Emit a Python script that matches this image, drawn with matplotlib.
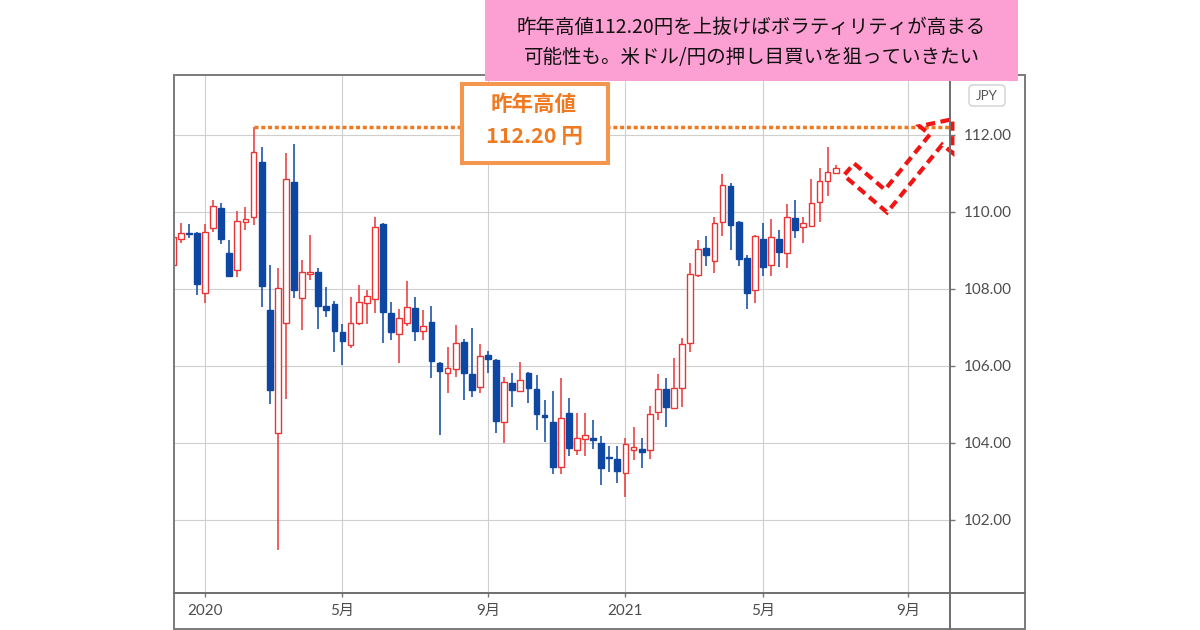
import matplotlib
matplotlib.use('Agg')
import matplotlib.pyplot as plt
import matplotlib.dates as mdates
from matplotlib.patches import Rectangle, FancyBboxPatch, Polygon
from matplotlib.lines import Line2D
import pandas as pd

# weekly USD/JPY candles, first bar = week of 2019-12-09
first_week = '2019-12-09'
opens = [108.62, 109.30, 109.46, 109.45, 107.89, 109.59, 110.10, 108.93, 108.49, 109.73,
         109.86, 111.31, 107.45, 104.25, 107.11, 110.79, 107.76, 108.40, 108.45, 107.56,
         107.61, 106.89, 106.55, 107.11, 107.63, 107.73, 109.68, 107.37, 106.82, 107.11,
         107.50, 106.92, 107.15, 106.07, 105.81, 105.91, 106.63, 105.79, 105.45, 106.29,
         106.16, 104.55, 105.55, 105.35, 105.81, 105.39, 104.72, 104.55, 103.38, 104.79,
         103.82, 104.10, 104.12, 104.01, 103.64, 103.58, 103.21, 103.82, 103.85, 103.82,
         104.81, 105.39, 104.90, 105.42, 106.59, 108.36, 109.07, 108.73, 109.73, 110.68,
         109.75, 108.81, 107.97, 109.30, 108.62, 109.30, 108.93, 109.84, 109.62, 109.64,
         110.27, 110.81, 111.01]
highs = [109.60, 109.71, 109.69, 109.48, 109.69, 110.31, 110.23, 109.27, 110.03, 110.12,
         112.22, 111.70, 108.62, 108.54, 111.52, 111.77, 108.75, 109.40, 108.54, 108.06,
         107.70, 107.09, 107.80, 108.10, 107.97, 109.88, 109.72, 107.67, 107.47, 108.21,
         107.80, 107.45, 107.56, 106.11, 106.50, 107.06, 106.69, 106.98, 106.57, 106.40,
         106.18, 105.72, 105.83, 106.11, 105.85, 105.77, 105.12, 105.36, 105.68, 105.16,
         104.79, 104.79, 104.60, 104.18, 103.92, 103.92, 104.12, 104.42, 104.12, 104.96,
         105.79, 105.68, 106.22, 106.72, 108.67, 109.27, 109.38, 109.88, 110.99, 110.76,
         109.77, 108.88, 109.40, 109.71, 109.81, 109.53, 110.21, 110.32, 109.88, 110.85,
         111.14, 111.68, 111.22]
lows = [108.40, 109.19, 109.32, 107.84, 107.64, 109.49, 109.18, 108.33, 108.32, 109.53,
        109.66, 107.54, 105.01, 101.22, 105.13, 107.76, 106.94, 108.23, 106.95, 107.28,
        106.37, 106.03, 106.46, 107.06, 107.09, 107.37, 106.59, 106.68, 106.07, 107.04,
        106.66, 106.68, 105.68, 104.21, 105.31, 105.71, 105.12, 105.20, 105.31, 105.81,
        104.27, 104.01, 104.94, 105.33, 105.03, 104.34, 104.03, 103.19, 103.19, 103.66,
        103.69, 103.66, 103.84, 102.91, 103.25, 102.97, 102.60, 103.56, 103.34, 103.58,
        104.61, 104.42, 104.88, 104.94, 106.37, 108.30, 108.60, 108.41, 109.38, 109.01,
        108.60, 107.47, 107.64, 108.34, 108.34, 108.56, 108.54, 109.32, 109.19, 109.62,
        109.73, 110.42, 110.99]
closes = [109.36, 109.46, 109.43, 108.12, 109.49, 110.16, 109.29, 108.35, 109.77, 109.81,
          111.57, 108.09, 105.38, 108.02, 110.85, 107.97, 108.43, 108.44, 107.56, 107.45,
          106.92, 106.66, 107.12, 107.67, 107.82, 109.60, 107.39, 106.89, 107.24, 107.52,
          106.92, 107.05, 106.14, 105.88, 105.96, 106.59, 105.81, 105.38, 106.26, 106.19,
          104.58, 105.59, 105.38, 105.64, 105.42, 104.75, 104.68, 103.38, 104.64, 103.88,
          104.12, 104.21, 104.08, 103.34, 103.60, 103.28, 103.97, 103.90, 103.77, 104.75,
          105.39, 104.94, 105.44, 106.56, 108.39, 109.03, 108.88, 109.71, 110.70, 109.66,
          108.78, 107.89, 109.38, 108.58, 109.36, 108.95, 109.86, 109.53, 109.71, 110.23,
          110.81, 111.05, 111.14]

price_ticks = [102, 104, 106, 108, 110, 112]
tick_dates = ['2020-01-06', '2020-05-04', '2020-09-07', '2021-01-04', '2021-05-03', '2021-09-06']
tick_labels = ['2020', '5月', '9月', '2021', '5月', '9月']

# projected zigzag (outline), in weeks after first bar and price
forecast_weeks = [84.29, 88.09, 93.64, 92.39, 96.44, 96.43, 95.18, 88.36, 83.01]
forecast_price = [111.26, 110.58, 112.01, 112.23, 112.41, 111.54, 111.75, 109.99, 110.95]

headline = ['昨年高値112.20円を上抜けばボラティリティが高まる',
            '可能性も。米ドル/円の押し目買いを狙っていきたい']

RED = '#EA3535'
BLUE = '#0D47A1'
ORANGE = '#F07A22'
CJK = ['Noto Sans CJK JP', 'DejaVu Sans']
AXFONT = ['Lato', 'Noto Sans CJK JP', 'DejaVu Sans']
H = 630


def inch(px, py):
    return px / 100, (H - py) / 100


fig = plt.figure(figsize=(12, 6.3), dpi=100)
fig.patch.set_facecolor('white')

ax = fig.add_axes([174 / 1200, (H - 593.3) / H, (950 - 174) / 1200, (593.3 - 74.7) / H])
for s in ax.spines.values():
    s.set_visible(False)

weeks = pd.date_range(first_week, periods=len(opens), freq='7D')
x = mdates.date2num(weeks)
x0 = x[0]

up = [c >= o for o, c in zip(opens, closes)]
cols = [RED if u else BLUE for u in up]
faces = ['white' if u else BLUE for u in up]
bottoms = [min(o, c) for o, c in zip(opens, closes)]
heights = [abs(c - o) for o, c in zip(opens, closes)]

ax.vlines(x, lows, highs, colors=cols, lw=1.1, zorder=2)
ax.bar(x, heights, bottom=bottoms, width=5.0, color=faces, edgecolor=cols,
       linewidth=1.0, zorder=3)

ax.set_xlim(x0 + 1.13, x0 + 672.98)
ax.set_ylim(100.096, 113.566)

# last year's high, dotted
year_high = max(highs)
hi_x = x[highs.index(year_high)]
ax.plot([hi_x, x0 + 672.98], [year_high, year_high], color=ORANGE, lw=2.5,
        linestyle=(0, (1.15, 0.8)), dash_capstyle='butt', zorder=4)

# projected path
fx = [x0 + w * 7 for w in forecast_weeks]
ax.add_patch(Polygon(list(zip(fx, forecast_price)), closed=True, fill=False,
                     edgecolor='#F01515', lw=3, linestyle=(0, (2.2, 1.3)),
                     clip_on=False, zorder=6))

# label box
ax.add_patch(Rectangle((0.3711, 0.8297), 0.1882, 0.1524, transform=ax.transAxes,
                       facecolor='white', edgecolor='#F5964F', lw=2.9, zorder=7))
ax.text(0.4639, 0.9435, '昨年高値', transform=ax.transAxes, ha='center', va='center',
        fontsize=15.5, fontweight='bold', color=ORANGE, family=CJK, zorder=8)
ax.text(0.4639, 0.8799, '112.20 円', transform=ax.transAxes, ha='center', va='center',
        fontsize=15.5, fontweight='bold', color=ORANGE, family=CJK, zorder=8)

ax.set_xticks(mdates.date2num(pd.to_datetime(tick_dates)))
ax.set_xticklabels(tick_labels, family=AXFONT)
ax.set_yticks(price_ticks)
ax.set_yticklabels(['%.2f' % p for p in price_ticks], family=AXFONT)
ax.yaxis.tick_right()
ax.grid(True, color='#cfcfcf', lw=0.8)
ax.set_axisbelow(True)
ax.tick_params(axis='y', left=False, right=True, length=3.6, width=1, color='#777777',
               pad=6, labelsize=11, labelcolor='#4d4d4d')
ax.tick_params(axis='x', length=3, width=1, color='#777777', pad=5,
               labelsize=11, labelcolor='#4d4d4d')

# frame and axis lines
T = fig.dpi_scale_trans
fig.add_artist(Rectangle(inch(174, 629), (1025 - 174) / 100, (629 - 74.7) / 100,
                         transform=T, fill=False, ec='#7a7a7a', lw=1.4, zorder=5))
fig.add_artist(Line2D([9.50, 9.50], [inch(0, 74.7)[1], inch(0, 629)[1]], transform=T,
                      color='#6e6e6e', lw=1.4, zorder=5))
fig.add_artist(Line2D([1.74, 10.25], [inch(0, 593.3)[1]] * 2, transform=T,
                      color='#6e6e6e', lw=1.4, zorder=5))

# currency badge
fig.add_artist(FancyBboxPatch(inch(969, 106), 0.36, 0.21, boxstyle='round,pad=0,rounding_size=0.04',
                              transform=T, fc='white', ec='#d0d0d0', lw=1, zorder=5))
fig.text(*inch(987, 96), 'JPY', transform=T, ha='center', va='center', fontsize=9.5,
         color='#555555', family=AXFONT, zorder=6)

# pink comment box
fig.add_artist(Rectangle(inch(485, 80.7), (1018 - 485) / 100, 0.807, transform=T,
                         fc='#FC9FD2', ec='none', zorder=10))
fig.text(*inch(751.5, 27), headline[0], transform=T, ha='center', va='center',
         fontsize=14, color='#111111', family=CJK, zorder=11)
fig.text(*inch(751.5, 58), headline[1], transform=T, ha='center', va='center',
         fontsize=14, color='#111111', family=CJK, zorder=11)

fig.savefig('out.png', dpi=100)
plt.close(fig)
